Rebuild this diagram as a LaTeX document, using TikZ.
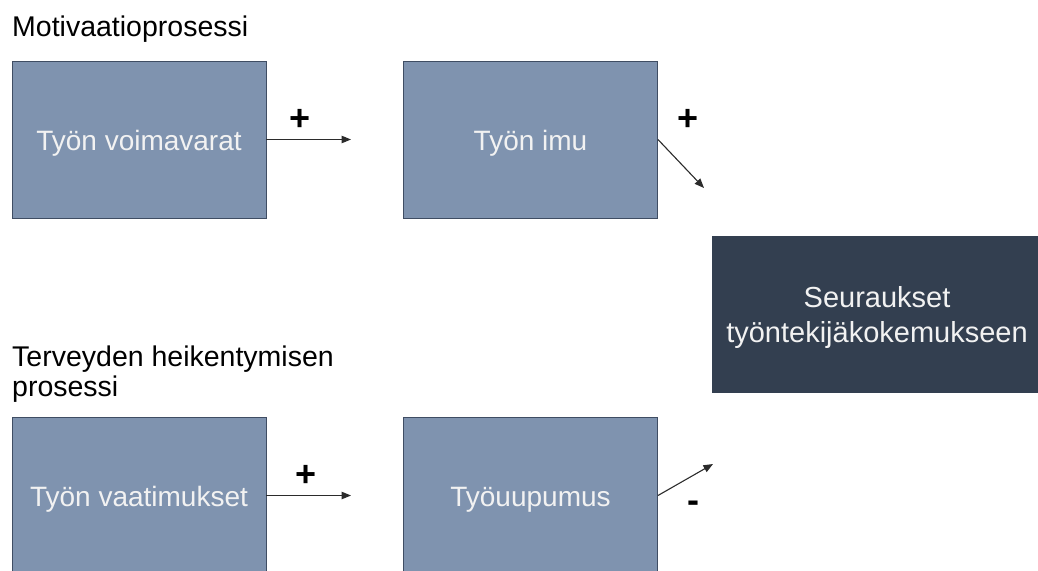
\documentclass[tikz,border=0pt]{standalone}
\usepackage{fontspec}
\setmainfont{Liberation Sans}
\usetikzlibrary{arrows.meta}
\definecolor{boxfill}{HTML}{7F93AF}
\definecolor{boxline}{HTML}{3F4D63}
\definecolor{darkfill}{HTML}{333F50}
\definecolor{boxtext}{HTML}{F2F2F2}
\definecolor{arrowcol}{HTML}{2B2B2B}
\tikzset{
  lightbox/.style={draw=boxline, line width=0.9pt, fill=boxfill, rectangle,
    minimum width=254pt, minimum height=157pt, inner sep=0pt,
    text=boxtext, font=\fontsize{28}{34}\selectfont,
    text height=21pt, text depth=0pt},
  resultbox/.style={draw=darkfill, line width=0.9pt, fill=darkfill, rectangle,
    minimum width=330pt, minimum height=156pt, inner sep=0pt,
    text=boxtext, font=\fontsize{29}{35}\selectfont, align=center,
    text depth=0pt},
  heading/.style={anchor=base west, inner sep=0pt, text=black,
    font=\fontsize{28.5}{30}\selectfont, align=left},
  sign/.style={inner sep=0pt, text=black, font=\fontsize{36}{36}\selectfont\bfseries},
  link/.style={draw=arrowcol, line width=1.1pt,
    -{Triangle[length=9.5pt,width=7.5pt]}}
}
\begin{document}
\begin{tikzpicture}[x=1pt,y=-1pt]
  \useasboundingbox (0,0) rectangle (1038,570);
  \clip (0,0) rectangle (1038,570);

  % section headings
  \node[heading] (h1) at (12,36.7) {Motivaatioprosessi};
  \node[heading] (h2a) at (12,366.7) {Terveyden heikentymisen};
  \node[heading] (h2b) at (12,396.7) {prosessi};

  % motivation process
  \node[lightbox] (res) at (139,139.5) {Työn voimavarat};
  \node[lightbox] (eng) at (530.5,139.5) {Työn imu};

  % health impairment process
  \node[lightbox] (dem) at (139,495.5) {Työn vaatimukset};
  \node[lightbox] (burn) at (530.5,495.5) {Työuupumus};

  % outcomes
  \node[resultbox] (out) at (877,314) {Seuraukset\\työntekijäkokemukseen};

  % arrow ends
  \coordinate (e1) at (351,139.5);
  \coordinate (e2) at (704,188);
  \coordinate (e3) at (351,495.5);
  \coordinate (e4) at (713,464);

  \draw[link] (res.east) -- (e1);
  \draw[link] (eng.east) -- (e2);
  \draw[link] (dem.east) -- (e3);
  \draw[link] (burn.east) -- (e4);

  % signs of the effects
  \node[sign] (s1) at (300,120) {+};
  \node[sign] (s2) at (688,120) {+};
  \node[sign] (s3) at (306,476) {+};
  \node[sign] (s4) at (693,507) {-};
\end{tikzpicture}
\end{document}
